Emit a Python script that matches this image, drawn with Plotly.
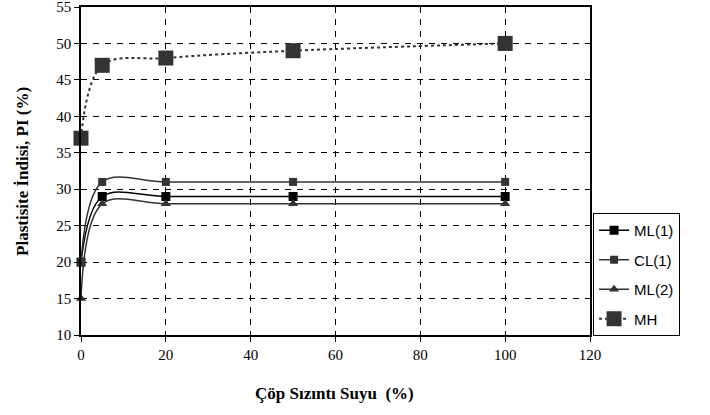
import plotly.graph_objects as go

x_vals = [0, 5, 20, 50, 100]
ml1 = [20, 29, 29, 29, 29]
cl1 = [20, 31, 31, 31, 31]
ml2 = [15, 28, 28, 28, 28]
mh = [37, 47, 48, 49, 50]

x_ticks = [0, 20, 40, 60, 80, 100, 120]
y_ticks = [10, 15, 20, 25, 30, 35, 40, 45, 50, 55]

fig = go.Figure()
series = [
    ("ML(1)", ml1, dict(symbol="square", size=9, color="#000000"), dict(color="#000000", width=1.5, dash="solid", shape="spline", smoothing=1.0)),
    ("CL(1)", cl1, dict(symbol="square", size=8, color="#333333"), dict(color="#333333", width=1.5, dash="solid", shape="spline", smoothing=1.0)),
    ("ML(2)", ml2, dict(symbol="triangle-up", size=9, color="#333333"), dict(color="#333333", width=1.5, dash="solid", shape="spline", smoothing=1.0)),
    ("MH", mh, dict(symbol="square", size=15, color="#333333"), dict(color="#333333", width=2, dash="dot", shape="spline", smoothing=1.0)),
]
for i, (name, ys, mk, ln) in enumerate(series):
    fig.add_trace(go.Scatter(x=x_vals, y=ys, name=name, mode="lines+markers",
                             marker=mk, line=ln, legendgroup=f"g{i}", cliponaxis=False))

serif = "Liberation Serif"
fig.update_layout(
    width=710, height=415, autosize=False,
    margin=dict(l=81, r=120, t=7, b=80),
    paper_bgcolor="white", plot_bgcolor="white",
    font=dict(family=serif, size=15, color="black"),
    legend=dict(x=1.006, y=0.372, xanchor="left", yanchor="top",
                bordercolor="black", borderwidth=1,
                font=dict(family="Liberation Sans", size=15),
                traceorder="grouped", tracegroupgap=7),
    xaxis=dict(range=[0, 120], tickvals=x_ticks, showgrid=True, gridcolor="rgb(0,0,0)",
               griddash="6px,6px", gridwidth=1, showline=True, linecolor="black", linewidth=1.5,
               mirror=True, ticks="outside", ticklen=5, tickcolor="black", zeroline=False,
               automargin=False, tickfont=dict(family=serif, size=15)),
    yaxis=dict(range=[10, 55], tickvals=y_ticks, showgrid=True, gridcolor="rgb(0,0,0)",
               griddash="6px,6px", gridwidth=1, showline=True, linecolor="black", linewidth=1.5,
               mirror=True, ticks="outside", ticklen=5, tickcolor="black", zeroline=False,
               automargin=False, ticklabeloverflow="allow", tickfont=dict(family=serif, size=15)),
    annotations=[
        dict(text="<b>Çöp Sızıntı Suyu  (%)</b>", xref="paper", yref="paper", x=0.499, y=-0.177,
             xanchor="center", yanchor="middle", showarrow=False, font=dict(family=serif, size=17)),
        dict(text="<b>Plastisite İndisi, PI (%)</b>", xref="paper", yref="paper", x=-0.116, y=0.5,
             xanchor="center", yanchor="middle", textangle=-90, showarrow=False, font=dict(family=serif, size=17)),
    ],
)
fig.write_html("out.html",
               config={"displayModeBar": False, "responsive": False},
               post_script="document.body.style.margin='0';document.body.style.overflow='hidden';")
